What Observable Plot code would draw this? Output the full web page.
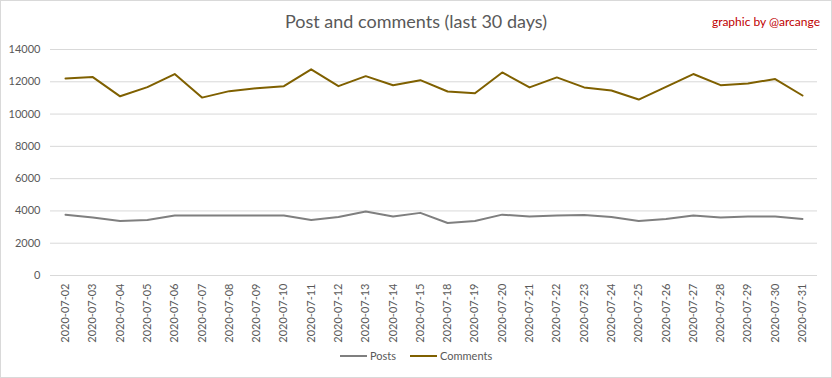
<!DOCTYPE html>
<html>
<head>
<meta charset="utf-8">
<script src="https://cdn.jsdelivr.net/npm/d3@7"></script>
<script src="https://cdn.jsdelivr.net/npm/@observablehq/plot@0.6"></script>
<style>
  body { margin: 0; background: #fff; }
  #wrap { position: relative; width: 832px; height: 378px; outline: 1px solid #d9d9d9; outline-offset: -1px; font-family: Lato, "Open Sans", sans-serif; }
  #title { position: absolute; left: 0; width: 832px; top: 10px; text-align: center; font-size: 18px; color: #595959; }
  #credit { position: absolute; right: 12px; top: 14px; font-size: 12px; color: #c00000; }
  #legend { position: absolute; top: 349px; left: 0; width: 832px; font-size: 11px; color: #595959; }
  .item { position: absolute; display: flex; align-items: center; }
  .swatch { display: inline-block; width: 27px; height: 2px; margin-right: 3px; }
</style>
</head>
<body>
<div id="wrap">
  <div id="chart"></div>
  <div id="title">Post and comments (last 30 days)</div>
  <div id="credit">graphic by @arcange</div>
  <div id="legend"></div>
</div>
<script>
const dates = ["2020-07-02","2020-07-03","2020-07-04","2020-07-05","2020-07-06","2020-07-07","2020-07-08","2020-07-09","2020-07-10","2020-07-11","2020-07-12","2020-07-13","2020-07-14","2020-07-15","2020-07-18","2020-07-19","2020-07-20","2020-07-21","2020-07-22","2020-07-23","2020-07-24","2020-07-25","2020-07-26","2020-07-27","2020-07-28","2020-07-29","2020-07-30","2020-07-31"];
const posts = [3770,3590,3380,3440,3710,3710,3710,3710,3710,3440,3630,3960,3650,3880,3250,3380,3770,3650,3710,3750,3630,3380,3500,3710,3590,3650,3650,3500];
const comments = [12210,12290,11100,11670,12480,11020,11420,11600,11730,12770,11730,12350,11790,12100,11400,11290,12580,11650,12270,11650,11460,10900,11690,12480,11790,11900,12170,11150];
const seriesNames = ["Posts", "Comments"];
const seriesColors = ["#7f7f7f", "#7f6000"];
const yTicks = [0, 2000, 4000, 6000, 8000, 10000, 12000, 14000];

const rows = [];
dates.forEach((d, i) => {
  rows.push({date: d, value: posts[i], series: seriesNames[0]});
  rows.push({date: d, value: comments[i], series: seriesNames[1]});
});

const chart = Plot.plot({
  width: 832,
  height: 378,
  marginLeft: 50,
  marginRight: 15,
  marginTop: 49,
  marginBottom: 103,
  style: {fontFamily: "Lato, 'Open Sans', sans-serif", fontSize: "11px", color: "#595959", background: "transparent"},
  x: {type: "point", domain: dates, padding: 0.55, round: false, label: null},
  y: {domain: [0, 14000], label: null},
  color: {domain: seriesNames, range: seriesColors},
  marks: [
    Plot.gridY(yTicks, {stroke: "#d9d9d9", strokeOpacity: 1, strokeWidth: 1}),
    Plot.axisY({ticks: yTicks, tickSize: 0, tickPadding: 10, label: null, tickFormat: d => String(d)}),
    Plot.axisX({tickSize: 0, tickPadding: 8, tickRotate: -90, label: null}),
    Plot.line(rows, {x: "date", y: "value", z: "series", stroke: "series", strokeWidth: 2, strokeLinejoin: "round"})
  ]
});
document.getElementById("chart").appendChild(chart);

const legend = document.getElementById("legend");
const lefts = [340, 410];
seriesNames.forEach((name, i) => {
  const it = document.createElement("div");
  it.className = "item";
  it.style.left = lefts[i] + "px";
  const sw = document.createElement("span");
  sw.className = "swatch";
  sw.style.background = seriesColors[i];
  const tx = document.createElement("span");
  tx.textContent = name;
  it.appendChild(sw);
  it.appendChild(tx);
  legend.appendChild(it);
});
</script>
</body>
</html>
